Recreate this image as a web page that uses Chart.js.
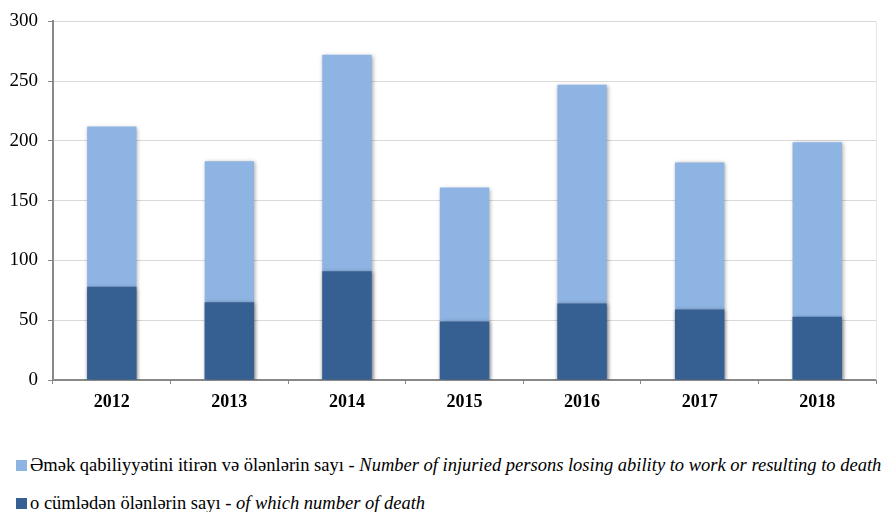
<!DOCTYPE html>
<html>
<head>
<meta charset="utf-8">
<script src="https://cdn.jsdelivr.net/npm/chart.js@4"></script>
<style>
  body { margin: 0; background: #fff; width: 884px; height: 512px; overflow: hidden; position: relative; font-family: 'Liberation Serif', 'Times New Roman', 'DejaVu Serif', serif; }
  #wrap { position: absolute; left: 0; top: 0; width: 884px; height: 425px; }
  .leg { position: absolute; left: 16px; font-size: 18.5px; color: #000; white-space: nowrap; line-height: 20px; }
  .leg .sq { display: inline-block; width: 11px; height: 11px; margin-right: 3px; vertical-align: 0px; }
  .leg i { font-style: italic; }
</style>
</head>
<body>
<div id="wrap"><canvas id="chart"></canvas></div>
<div class="leg" style="top:455px"><span class="sq" style="background:#8EB4E3"></span>Əmək qabiliyyətini itirən və ölənlərin sayı - <i>Number of injuried persons losing ability to work or resulting to death</i></div>
<div class="leg" style="top:493px"><span class="sq" style="background:#376092"></span>o cümlədən ölənlərin sayı - <i>of which number of death</i></div>
<script>
const years = ["2012", "2013", "2014", "2015", "2016", "2017", "2018"];
const injured = [212, 183, 272, 161, 247, 182, 199];
const deaths = [78, 65, 91, 49, 64, 59, 53];
const yTicks = [0, 50, 100, 150, 200, 250, 300];

Chart.defaults.font.family = "'Liberation Serif', 'Times New Roman', serif";

const shadow = {
    id: "shadow",
    beforeDatasetsDraw(chart) {
        const ctx = chart.ctx;
        ctx.save();
        ctx.shadowColor = "rgba(0,0,0,0.35)";
        ctx.shadowBlur = 4;
        ctx.shadowOffsetX = 1;
        ctx.shadowOffsetY = 1;
    },
    afterDatasetsDraw(chart) {
        chart.ctx.restore();
        // faint right border of the plot area
        const a = chart.chartArea, ctx = chart.ctx;
        ctx.save();
        ctx.strokeStyle = "#e6e6e6";
        ctx.lineWidth = 1;
        ctx.beginPath();
        ctx.moveTo(a.right + 0.5, a.top);
        ctx.lineTo(a.right + 0.5, a.bottom);
        ctx.stroke();
        ctx.restore();
    }
};

new Chart(document.getElementById("chart"), {
    type: "bar",
    data: {
        labels: years,
        datasets: [
            { label: "o cümlədən ölənlərin sayı", data: deaths, backgroundColor: "#376092", barPercentage: 0.42, categoryPercentage: 1 },
            { label: "Əmək qabiliyyətini itirən və ölənlərin sayı", data: injured, backgroundColor: "#8EB4E3", barPercentage: 0.42, categoryPercentage: 1 }
        ]
    },
    options: {
        responsive: true,
        maintainAspectRatio: false,
        animation: false,
        layout: { padding: { top: 20, right: 8, left: 0, bottom: 0 } },
        plugins: { legend: { display: false }, tooltip: { enabled: false } },
        scales: {
            x: {
                stacked: true,
                grid: { display: true, drawOnChartArea: false, offset: true, tickLength: 4, tickColor: "#888", color: "#888" },
                border: { color: "#888", width: 2 },
                ticks: { color: "#000", font: { size: 18, weight: "bold" }, padding: 8 },
                afterFit(s) { s.height = 45; }
            },
            y: {
                stacked: false,
                min: 0, max: 300,
                afterBuildTicks(s) { s.ticks = yTicks.map(v => ({ value: v })); },
                grid: { color: "#d9d9d9", tickLength: 5, tickColor: "#888" },
                border: { color: "#888", width: 2 },
                ticks: { color: "#000", font: { size: 19 }, padding: 10 },
                afterFit(s) { s.width = 53; }
            }
        }
    },
    plugins: [shadow]
});
</script>
</body>
</html>
